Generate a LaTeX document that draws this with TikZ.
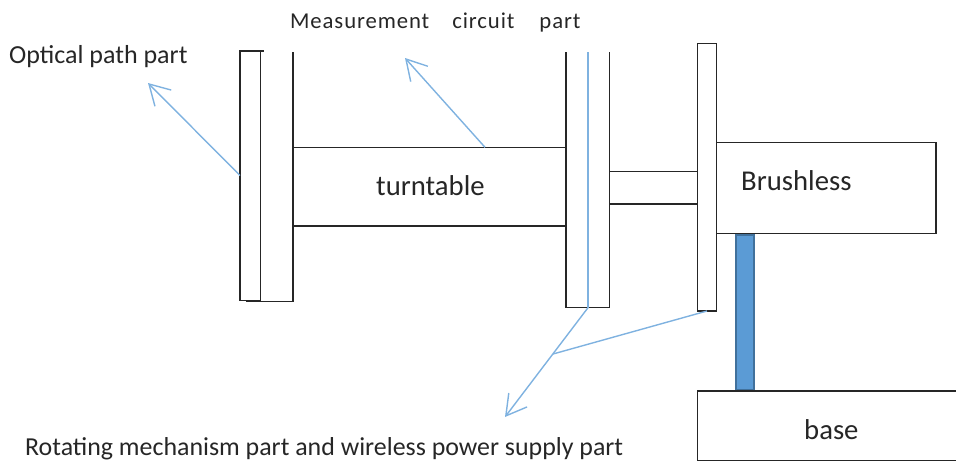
\documentclass[tikz,border=0pt]{standalone}
\usepackage{fontspec}
\setmainfont{Carlito}
\newfontfamily\spacedfont[LetterSpace=4]{Carlito}
\usetikzlibrary{arrows.meta}
\definecolor{armblue}{HTML}{7FB2E0}
\definecolor{barfill}{HTML}{5B9BD5}
\definecolor{baredge}{HTML}{41719C}
\definecolor{ink}{HTML}{262626}
\tikzset{
  part/.style={draw=ink,line width=1.3pt,fill=white,rectangle,inner sep=0pt,outer sep=0pt},
  partline/.style={draw=ink,line width=1.3pt},
  lead/.style={draw=armblue,line width=1.4pt},
  leadarrow/.style={lead,-{Straight Barb[length=20pt,width=23pt,line width=1.4pt]}},
  lab/.style={text=ink,inner sep=0pt,anchor=base west,font=\fontsize{26}{30}\selectfont},
  labrot/.style={text=ink,inner sep=0pt,anchor=base west,font=\fontsize{25.9}{30}\selectfont},
  labbig/.style={text=ink,inner sep=0pt,anchor=base west,font=\fontsize{28.7}{32}\selectfont},
  labmeas/.style={text=ink,inner sep=0pt,anchor=base west,font=\spacedfont\fontsize{22.7}{26}\selectfont},
}
\begin{document}
\begin{tikzpicture}[x=1pt,y=-1pt]
\useasboundingbox (0,0) rectangle (956,461);
% named coordinates
\coordinate (ltop) at (293,52);
\coordinate (lbl) at (246,301.5);
\coordinate (lbr) at (293,301.5);
\coordinate (mtl) at (566,52);
\coordinate (mbl) at (566,307.7);
\coordinate (mbr) at (609.3,307.7);
\coordinate (mtr) at (609.3,52);
\coordinate (bluetop) at (588,52);
\coordinate (bluebot) at (588,307.7);
\coordinate (tt1) at (293,147.3);
\coordinate (tt2) at (566,147.3);
\coordinate (tt3) at (293,226);
\coordinate (tt4) at (566,226);
\coordinate (sh1) at (609.3,171.7);
\coordinate (sh2) at (697.3,171.7);
\coordinate (sh3) at (609.3,204);
\coordinate (sh4) at (697.3,204);
\coordinate (opticalstart) at (240,175.5);
\coordinate (opticalend) at (148,83);
\coordinate (measstart) at (485,147.3);
\coordinate (measend) at (405,58);
\coordinate (join) at (553,354);
\coordinate (rotend) at (505,417);
\coordinate (platebot) at (707,311);
\coordinate (ptl) at (240,51);
\coordinate (ptr) at (264,51);
\coordinate (btl) at (697.3,391);
\coordinate (btr) at (956,391);
\coordinate (bbl) at (697.3,460.3);
\coordinate (bbr) at (956,460.3);
% left plate and open body
\draw[partline] (ltop) -- (lbr) -- (lbl);
\node[part,minimum width=20.5pt,minimum height=249.5pt] (leftplate) at (250.3,175.8) {};
\draw[partline] (ptl) -- (ptr);
% turntable
\draw[partline] (tt1) -- (tt2) (tt3) -- (tt4);
\node[labbig] (turn) at (376,195) {turntable};
% middle body
\draw[partline] (mtl) -- (mbl) -- (mbr) -- (mtr);
\draw[lead] (bluetop) -- (bluebot);
% shaft
\draw[partline] (sh1) -- (sh2) (sh3) -- (sh4);
% bar
\node[rectangle,draw=baredge,fill=barfill,line width=2.2pt,minimum width=18pt,minimum height=156pt,inner sep=0pt] (bar) at (744.6,312.5) {};
% brushless, plate, base
\node[part,minimum width=220pt,minimum height=90.6pt] (brush) at (826,188) {};
\node[part,minimum width=19pt,minimum height=267.7pt] (plate) at (706.8,177.2) {};
\draw[partline] (btr) -- (btl) -- (bbl) -- (bbr);
\node[labbig] (brushtxt) at (741,190) {Brushless};
\node[labbig] (basetxt) at (804,439) {base};
% labels
\node[lab] (optical) at (9,63) {Optical path part};
\node[labmeas] (meas) at (290,28) {Measurement\hspace{23pt}circuit\hspace{25pt}part};
\node[labrot] (rot) at (25,455) {Rotating mechanism part and wireless power supply part};
% leaders
\draw[leadarrow] (opticalstart) -- (opticalend);
\draw[leadarrow] (measstart) -- (measend);
\draw[leadarrow] (bluebot) -- (rotend);
\draw[lead] (platebot) -- (join);
\end{tikzpicture}
\end{document}
